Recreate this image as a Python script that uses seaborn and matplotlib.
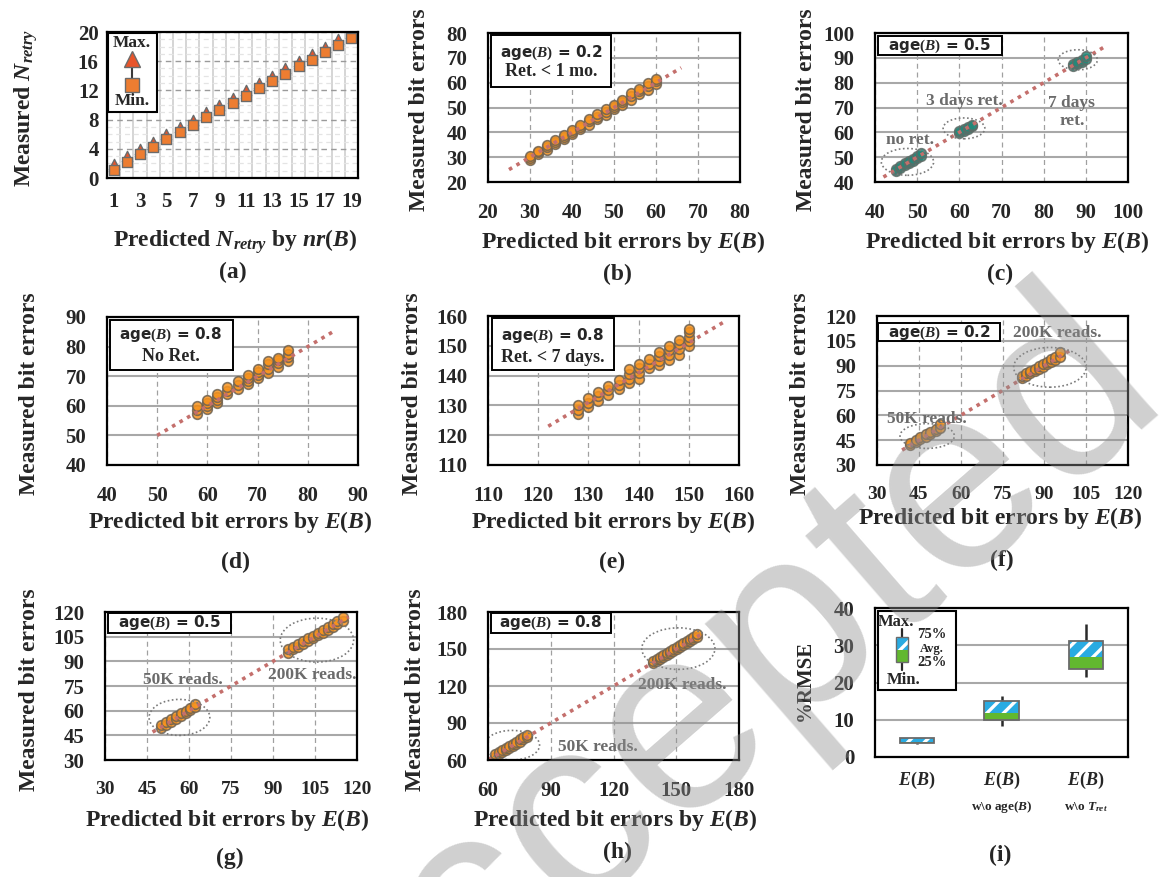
import numpy as np
import pandas as pd
import matplotlib
matplotlib.use('Agg')
import matplotlib.pyplot as plt
import seaborn as sns
from matplotlib.patches import Ellipse, Rectangle
from matplotlib.transforms import blended_transform_factory

sns.set_theme(style='white')
plt.rcParams['font.family'] = ['Liberation Serif', 'DejaVu Serif']
plt.rcParams['font.weight'] = 'bold'
plt.rcParams['mathtext.fontset'] = 'custom'
plt.rcParams['mathtext.rm'] = 'Liberation Serif:bold'
plt.rcParams['mathtext.it'] = 'Liberation Serif:italic:bold'
plt.rcParams['mathtext.bf'] = 'Liberation Serif:bold'
plt.rcParams['hatch.linewidth'] = 2.4

# ---------------- data ----------------
# (a) retry counts
a_pred = [1, 2, 3, 4, 5, 6, 7, 8, 9, 10, 11, 12, 13, 14, 15, 16, 17, 18, 19]
a_min = [1.1, 2.2, 3.3, 4.2, 5.3, 6.3, 7.3, 8.3, 9.3, 10.3, 11.3, 12.3, 13.3, 14.2, 15.3, 16.2, 17.3, 18.2, 19.2]
a_max = [1.9, 3.0, 4.0, 5.0, 6.0, 7.0, 8.0, 9.0, 10.0, 11.0, 12.0, 13.0, 14.0, 15.0, 16.0, 17.0, 18.0, 19.0, 19.9]

# (b) age = 0.2, ret < 1 mo
b_x = [30, 30, 30, 32, 32, 32, 34, 34, 34, 36, 36, 36, 38, 38, 38, 40, 40, 40,
       42, 42, 42, 44, 44, 44, 46, 46, 46, 48, 48, 48, 50, 50, 50, 52, 52, 52,
       54, 54, 54, 56, 56, 56, 58, 58, 58, 60, 60, 60]
b_y = [29.0, 29.8, 30.5, 31.2, 32.0, 32.6, 33.0, 34.0, 34.8, 35.3, 36.2, 37.0, 37.2, 38.0, 38.8, 39.2, 40.0, 41.0,
       41.3, 42.2, 43.0, 43.0, 44.5, 45.5, 45.2, 46.3, 47.3, 47.0, 48.3, 49.2, 49.5, 50.3, 51.0, 51.2, 52.3, 53.2,
       53.2, 54.5, 55.8, 55.5, 56.5, 57.5, 57.2, 58.5, 60.0, 59.3, 60.5, 61.5]
b_line = [25, 66]

# (c) age = 0.5, retention groups
c_x = [45, 45, 46, 46, 47, 47, 48, 48, 49, 49, 50, 50, 51, 51,
       60, 60, 61, 61, 62, 62, 63, 63,
       87, 87, 88, 88, 89, 89, 90, 90]
c_y = [44.5, 45.3, 45.8, 46.5, 46.8, 47.6, 47.6, 48.5, 48.6, 49.4, 49.6, 50.5, 50.5, 51.6,
       59.6, 60.4, 60.5, 61.3, 61.4, 62.2, 62.4, 63.0,
       86.6, 87.4, 87.4, 88.3, 88.4, 89.3, 89.6, 90.8]
c_line = [42, 95]

# (d) age = 0.8, no ret
d_x = [58, 58, 58, 60, 60, 60, 60, 62, 62, 62, 62, 64, 64, 64, 66, 66, 66,
       68, 68, 68, 68, 70, 70, 70, 70, 72, 72, 72, 72, 74, 74, 74, 74, 76, 76, 76, 76]
d_y = [57.2, 58.5, 60.0, 59.0, 60.0, 61.0, 62.0, 61.0, 62.0, 63.0, 64.0, 64.0, 65.0, 66.5, 65.8, 67.0, 68.5,
       67.5, 68.5, 69.5, 70.5, 69.5, 70.5, 71.5, 72.3, 71.0, 72.5, 74.0, 75.3, 73.0, 74.5, 75.5, 76.3,
       75.3, 76.5, 77.5, 78.8]
d_line = [50, 85]

# (e) age = 0.8, ret < 7 days
e_x = [128, 128, 128, 130, 130, 130, 132, 132, 132, 134, 134, 134, 136, 136, 136,
       138, 138, 138, 138, 140, 140, 140, 140, 142, 142, 142, 144, 144, 144, 144,
       146, 146, 146, 146, 148, 148, 148, 148, 150, 150, 150, 150, 150]
e_y = [127.0, 128.5, 130.0, 129.3, 130.8, 132.5, 131.5, 133.0, 134.5, 133.5, 135.0, 136.5, 135.5, 137.0, 138.5,
       137.5, 139.0, 140.5, 142.3, 139.0, 141.0, 142.5, 144.0, 142.5, 144.0, 145.5, 143.5, 145.0, 146.5, 148.0,
       145.3, 147.0, 148.5, 150.0, 147.0, 148.8, 150.5, 151.8, 150.0, 151.5, 153.0, 154.5, 155.5]
e_line_x = [122, 157]
e_line_y = [123, 158]

# (f) age = 0.2, read disturb
f_x = [42, 42, 44, 44, 45.5, 45.5, 47.5, 47.5, 49, 49, 51, 51, 52.5, 52.5,
       82, 82, 83.5, 83.5, 85, 85, 86.5, 86.5, 88, 88, 89.5, 89.5, 91, 91, 92.5, 92.5, 94, 94, 95.5, 95.5]
f_y = [42.3, 43.5, 44.0, 45.3, 45.5, 46.8, 47.2, 48.5, 48.6, 50.0, 50.5, 52.0, 52.3, 54.5,
       82.5, 84.0, 84.0, 85.5, 85.3, 86.8, 86.8, 88.2, 88.2, 89.6, 89.4, 91.0, 90.8, 92.4, 92.3, 93.8,
       93.5, 95.3, 95.0, 98.0]
f_line = [39, 100]

# (g) age = 0.5, read disturb
g_x = [50, 50, 51.8, 51.8, 53.5, 53.5, 55.2, 55.2, 57, 57, 58.8, 58.8, 60.5, 60.5, 62.3, 62.3,
       95.5, 95.5, 97.3, 97.3, 99, 99, 100.8, 100.8, 102.5, 102.5, 104.3, 104.3, 106, 106,
       107.8, 107.8, 109.5, 109.5, 111.3, 111.3, 113, 113, 115, 115]
g_y = [49.5, 51.0, 51.5, 53.0, 53.2, 54.8, 55.0, 56.5, 56.8, 58.3, 58.5, 60.0, 60.2, 61.8, 62.0, 63.8,
       95.0, 97.5, 97.3, 99.0, 99.0, 100.8, 100.5, 102.3, 102.3, 104.0, 104.0, 105.7, 105.8, 107.5,
       107.5, 109.2, 109.2, 111.0, 110.8, 112.5, 112.5, 114.3, 114.5, 117.0]
g_line = [47, 117]

# (h) age = 0.8, read disturb
h_x = [63.5, 63.5, 65.2, 65.2, 66.8, 66.8, 68.5, 68.5, 70.2, 70.2, 71.8, 71.8, 73.5, 73.5,
       75.2, 75.2, 76.8, 76.8, 78.5, 78.5,
       139, 139, 140.6, 140.6, 142.2, 142.2, 143.8, 143.8, 145.4, 145.4, 147, 147, 148.6, 148.6,
       150.2, 150.2, 151.8, 151.8, 153.4, 153.4, 155, 155, 156.6, 156.6, 158.2, 158.2, 159.8, 159.8]
h_y = [62.8, 64.5, 64.5, 66.3, 66.3, 68.0, 68.0, 69.8, 69.8, 71.5, 71.5, 73.3, 73.3, 75.0,
       75.0, 76.8, 76.8, 78.5, 78.5, 80.3,
       138.5, 140.5, 140.3, 142.0, 141.8, 143.6, 143.4, 145.2, 145.0, 146.8, 146.6, 148.4, 148.2, 150.0,
       149.8, 151.6, 151.4, 153.2, 153.0, 154.8, 154.6, 156.4, 156.2, 158.0, 157.8, 159.8, 159.5, 162.3]
h_line = [60, 163]

# (i) %RMSE summary
i_pos = [0, 1, 2]
i_min = [3.6, 8.2, 21.4]
i_q25 = [3.8, 10.0, 23.6]
i_avg = [4.0, 11.8, 26.9]
i_q75 = [5.1, 15.0, 31.1]
i_max = [5.2, 16.3, 35.8]

# ---------------- layout helpers ----------------
W, H = 1162, 877
fig = plt.figure(figsize=(W / 100, H / 100), dpi=100)
fig.patch.set_facecolor('white')
TICK = 15


def make_ax(l, t, r, b):
    ax = fig.add_axes([l / W, 1 - b / H, (r - l) / W, (b - t) / H])
    ax.set_facecolor('white')
    for s in ax.spines.values():
        s.set_color('black')
        s.set_linewidth(1.6)
        s.set_zorder(10)
    return ax


def style(ax, lim, ticks, xlab_pos, ylab_pos, xlabel=r'Predicted bit errors by $E(B)$',
          ylabel='Measured bit errors', pad=15, xsize=TICK):
    ax.set_xlim(lim)
    ax.set_ylim(lim)
    ax.set_xticks(ticks)
    ax.set_yticks(ticks)
    ax.tick_params(length=0, labelsize=TICK, pad=pad)
    ax.tick_params(axis='x', labelsize=xsize)
    ax.xaxis.grid(True, color='#a0a0a0', lw=0.9, ls=(0, (4, 3)))
    ax.yaxis.grid(True, color='#a8a8a8', lw=1.5, ls='-')
    ax.set_axisbelow(True)
    ax.set_xlabel(xlabel, fontsize=17, fontweight='bold')
    ax.set_ylabel(ylabel, fontsize=17, fontweight='bold')
    ax.xaxis.set_label_coords(xlab_pos[0] / W, 1 - xlab_pos[1] / H, transform=fig.transFigure)
    ax.yaxis.set_label_coords(ylab_pos[0] / W, 1 - ylab_pos[1] / H, transform=fig.transFigure)


def info_box(ax, x0, y0, x1, y1, lines, ys):
    ax.add_patch(Rectangle((x0, y0), x1 - x0, y1 - y0, transform=ax.transAxes,
                           facecolor='white', edgecolor='black', lw=1.4, zorder=6))
    xc = (x0 + x1) / 2
    fam = ['DejaVu Sans', 'Liberation Serif']
    ax.text(xc, ys[0], lines[0], transform=ax.transAxes, ha='center', va='center',
            fontsize=11, fontweight='bold', family=fam, zorder=7)
    if len(lines) > 1:
        ax.text(xc, ys[1], lines[1], transform=ax.transAxes, ha='center', va='center',
                fontsize=13, fontweight='bold', zorder=7)


def cloud(ax, x, y, color='#F7931E', edge='#6e6252'):
    sns.scatterplot(x=x, y=y, ax=ax, s=48, color=color, edgecolor=edge, linewidth=1.2,
                    alpha=0.85, zorder=3, legend=False)


def fit_line(ax, x, y):
    sns.lineplot(x=x, y=y, ax=ax, color='#c46f6c', lw=2.6, linestyle=(0, (1, 1.4)),
                 zorder=4, legend=False)


def ring(ax, cx, cy, w, h):
    ax.add_patch(Ellipse((cx, cy), w, h, fill=False, edgecolor='#7a7a7a', lw=1.2,
                         ls=(0, (1, 1.5)), zorder=5))


def note(ax, x, y, s):
    ax.text(x, y, s, ha='center', va='center', fontsize=12.5, fontweight='bold',
            color='#6b6b6b', zorder=6)


# ---------------- (a) ----------------
ax = make_ax(107, 32, 358, 178)
ax.set_xlim(0.5, 19.5)
ax.set_ylim(0, 20)
ax.set_xticks([1, 3, 5, 7, 9, 11, 13, 15, 17, 19])
ax.set_xticks(np.arange(1.5, 19, 1), minor=True)
ax.set_yticks([0, 4, 8, 12, 16, 20])
ax.set_yticks(np.arange(1, 20, 1), minor=True)
ax.tick_params(which='both', length=0, labelsize=TICK)
ax.tick_params(axis='x', pad=10)
ax.tick_params(axis='y', pad=6)
ax.xaxis.grid(True, which='minor', color='#d2d2d2', lw=1.3, ls='-')
ax.yaxis.grid(True, which='minor', color='#e4e4e4', lw=0.9, ls=(0, (4, 3)))
ax.yaxis.grid(True, which='major', color='#9a9a9a', lw=1.0, ls=(0, (4, 3)))
ax.set_axisbelow(True)
ax.vlines(a_pred, a_min, a_max, color='#3a3a3a', lw=1.5, zorder=2)
sns.scatterplot(x=a_pred, y=a_max, ax=ax, marker='^', s=55, color='#E8552B',
                edgecolor='#6b6b6b', linewidth=1.0, zorder=3, legend=False)
sns.scatterplot(x=a_pred, y=a_min, ax=ax, marker='s', s=52, color='#ED7D31',
                edgecolor='#6b6b6b', linewidth=1.0, zorder=4, legend=False)
ax.set_xlabel(r'Predicted $N_{retry}$ by $nr(B)$', fontsize=17, fontweight='bold')
ax.set_ylabel(r'Measured $N_{retry}$', fontsize=17, fontweight='bold')
ax.xaxis.set_label_coords(235 / W, 1 - 227 / H, transform=fig.transFigure)
ax.yaxis.set_label_coords(40 / W, 1 - 108 / H, transform=fig.transFigure)
# legend box
ax.add_patch(Rectangle((0.004, 0.45), 0.196, 0.54, transform=ax.transAxes,
                       facecolor='white', edgecolor='black', lw=1.5, zorder=6))
ax.plot([0.10, 0.10], [0.815, 0.637], transform=ax.transAxes, color='#3a3a3a', lw=1.5, zorder=7)
ax.plot([0.10], [0.815], transform=ax.transAxes, marker='^', ms=11, color='#E8552B',
        mec='#6b6b6b', zorder=8)
ax.plot([0.10], [0.637], transform=ax.transAxes, marker='s', ms=10, color='#ED7D31',
        mec='#6b6b6b', zorder=8)
ax.text(0.10, 0.925, 'Max.', transform=ax.transAxes, ha='center', va='center', fontsize=12.5, zorder=8)
ax.text(0.10, 0.53, 'Min.', transform=ax.transAxes, ha='center', va='center', fontsize=12.5, zorder=8)

# ---------------- (b) ----------------
ax = make_ax(488, 33, 740, 182)
style(ax, (20, 80), [20, 30, 40, 50, 60, 70, 80], (623, 229), (430, 110))
cloud(ax, b_x, b_y)
fit_line(ax, b_line, b_line)
info_box(ax, 0.01, 0.64, 0.49, 0.985, ['age$(B)$ = 0.2', 'Ret. < 1 mo.'], [0.87, 0.74])

# ---------------- (c) ----------------
ax = make_ax(875, 33, 1128, 182)
style(ax, (40, 100), [40, 50, 60, 70, 80, 90, 100], (1007, 229), (817, 110))
cloud(ax, c_x, c_y, color='#23897a', edge='#5f6b66')
fit_line(ax, c_line, c_line)
ring(ax, 47.7, 48.1, 12.4, 10.8)
ring(ax, 61.1, 61.6, 9.9, 8.4)
ring(ax, 88.1, 89.2, 9.3, 8.1)
note(ax, 48.2, 56.8, 'no ret.')
note(ax, 61.2, 72.6, '3 days ret.')
note(ax, 86.7, 68.3, '7 days\nret.')
info_box(ax, 0.01, 0.85, 0.50, 0.98, ['age$(B)$ = 0.5'], [0.915])

# ---------------- (d) ----------------
ax = make_ax(107, 317, 358, 465)
style(ax, (40, 90), [40, 50, 60, 70, 80, 90], (230, 509), (40, 394))
cloud(ax, d_x, d_y)
fit_line(ax, d_line, d_line)
info_box(ax, 0.01, 0.64, 0.50, 0.98, ['age$(B)$ = 0.8', 'No Ret.'], [0.88, 0.73])

# ---------------- (e) ----------------
ax = make_ax(488, 316, 739, 465)
style(ax, (110, 160), [110, 120, 130, 140, 150, 160], (613, 509), (423, 394))
cloud(ax, e_x, e_y)
fit_line(ax, e_line_x, e_line_y)
info_box(ax, 0.015, 0.635, 0.50, 0.985, ['age$(B)$ = 0.8', 'Ret. < 7 days.'], [0.87, 0.72])

# ---------------- (f) ----------------
ax = make_ax(877, 316, 1128, 465)
style(ax, (30, 120), [30, 45, 60, 75, 90, 105, 120], (1000, 505), (811, 394), xsize=14)
cloud(ax, f_x, f_y)
fit_line(ax, f_line, f_line)
ring(ax, 48, 47.5, 19.5, 15)
ring(ax, 92, 89, 26, 24)
note(ax, 48, 58, '50K reads.')
note(ax, 94.5, 109.5, '200K reads.')
info_box(ax, 0.005, 0.83, 0.49, 0.95, ['age$(B)$ = 0.2'], [0.89])

# ---------------- (g) ----------------
ax = make_ax(105, 612, 357, 760)
style(ax, (30, 120), [30, 45, 60, 75, 90, 105, 120], (227, 807), (40, 690), xsize=14)
cloud(ax, g_x, g_y)
fit_line(ax, g_line, g_line)
ring(ax, 56.6, 55.9, 21.7, 21.9)
ring(ax, 105.7, 102.9, 26.2, 26.7)
note(ax, 57.8, 78.6, '50K reads.')
note(ax, 103.9, 81.6, '200K reads.')
info_box(ax, 0.01, 0.86, 0.50, 0.99, ['age$(B)$ = 0.5'], [0.925])

# ---------------- (h) ----------------
ax = make_ax(488, 612, 739, 760)
style(ax, (60, 180), [60, 90, 120, 150, 180], (615, 807), (426, 690))
cloud(ax, h_x, h_y)
fit_line(ax, h_line, h_line)
ring(ax, 71.5, 72, 26.3, 24)
ring(ax, 151, 150.3, 35, 33.7)
note(ax, 152.7, 120.6, '200K reads.')
note(ax, 112.4, 70.8, '50K reads.')
info_box(ax, 0.01, 0.86, 0.49, 0.99, ['age$(B)$ = 0.8'], [0.925])

# ---------------- (i) ----------------
ax = make_ax(875, 608, 1128, 757)
ax.set_xlim(-0.5, 2.5)
ax.set_ylim(0, 40)
ax.set_yticks([0, 10, 20, 30, 40])
ax.set_xticks(i_pos)
ax.set_xticklabels([r'$E(B)$'] * 3, fontsize=13)
ax.tick_params(length=0, labelsize=TICK, pad=15)
ax.tick_params(axis='x', labelsize=13, pad=9)
ax.yaxis.grid(True, color='#a8a8a8', lw=1.5)
ax.set_axisbelow(True)
bw = 0.41
lo = np.array(i_q25)
av = np.array(i_avg)
hi = np.array(i_q75)
ax.vlines(i_pos, i_min, i_q25, color='#2a2a2a', lw=1.8, zorder=2)
ax.vlines(i_pos, i_q75, i_max, color='#2a2a2a', lw=1.8, zorder=2)
ax.bar(i_pos, av - lo, bottom=lo, width=bw, color='#62B82F', lw=0, zorder=3)
ax.bar(i_pos, hi - av, bottom=av, width=bw, color='#29ABE2', edgecolor='white',
       hatch='//', lw=0, zorder=3)
ax.bar(i_pos, hi - lo, bottom=lo, width=bw, fill=False, edgecolor='#6a6a6a', lw=1.3, zorder=4)
ax.set_ylabel('%RMSE', fontsize=15, fontweight='bold')
ax.yaxis.set_label_coords(815 / W, 1 - 680 / H, transform=fig.transFigure)
trans = blended_transform_factory(ax.transData, ax.transAxes)
ax.text(1, -0.335, r'w\o age$(B)$', transform=trans, ha='center', va='center', fontsize=9.5)
ax.text(2, -0.335, r'w\o $T_{ret}$', transform=trans, ha='center', va='center', fontsize=9.5)
# legend box
ax.add_patch(Rectangle((0.01, 0.45), 0.31, 0.53, transform=ax.transAxes,
                       facecolor='white', edgecolor='black', lw=1.5, zorder=6))
ax.plot([0.107, 0.107], [0.584, 0.859], transform=ax.transAxes, color='#2a2a2a', lw=1.6, zorder=7)
ax.add_patch(Rectangle((0.083, 0.638), 0.048, 0.08, transform=ax.transAxes,
                       facecolor='#62B82F', lw=0, zorder=8))
ax.add_patch(Rectangle((0.083, 0.718), 0.048, 0.087, transform=ax.transAxes,
                       facecolor='#29ABE2', edgecolor='white', hatch='//', lw=0, zorder=8))
ax.add_patch(Rectangle((0.083, 0.638), 0.048, 0.167, transform=ax.transAxes,
                       fill=False, edgecolor='#6a6a6a', lw=1.0, zorder=9))
ax.text(0.085, 0.905, 'Max.', transform=ax.transAxes, ha='center', va='center', fontsize=12, zorder=9)
ax.text(0.115, 0.52, 'Min.', transform=ax.transAxes, ha='center', va='center', fontsize=12, zorder=9)
ax.text(0.225, 0.825, '75%', transform=ax.transAxes, ha='center', va='center', fontsize=10.5, zorder=9)
ax.text(0.225, 0.728, 'Avg.', transform=ax.transAxes, ha='center', va='center', fontsize=9, zorder=9)
ax.text(0.225, 0.632, '25%', transform=ax.transAxes, ha='center', va='center', fontsize=10.5, zorder=9)

# ---------------- panel tags ----------------
for tag, px, py in [('(a)', 233, 272), ('(b)', 617, 274), ('(c)', 1000, 274),
                    ('(d)', 235, 562), ('(e)', 612, 562), ('(f)', 1002, 560),
                    ('(g)', 230, 858), ('(h)', 617, 852), ('(i)', 1000, 855)]:
    fig.text(px / W, 1 - py / H, tag, ha='center', va='center', fontsize=17, fontweight='bold')

# watermark
fig.text(712 / W, 1 - 712 / H, 'Accepted', rotation=41, fontsize=190, color='#909090',
         alpha=0.42, ha='center', va='center', family='Liberation Sans',
         fontweight='normal', zorder=100)

fig.savefig('out.png', dpi=100)
